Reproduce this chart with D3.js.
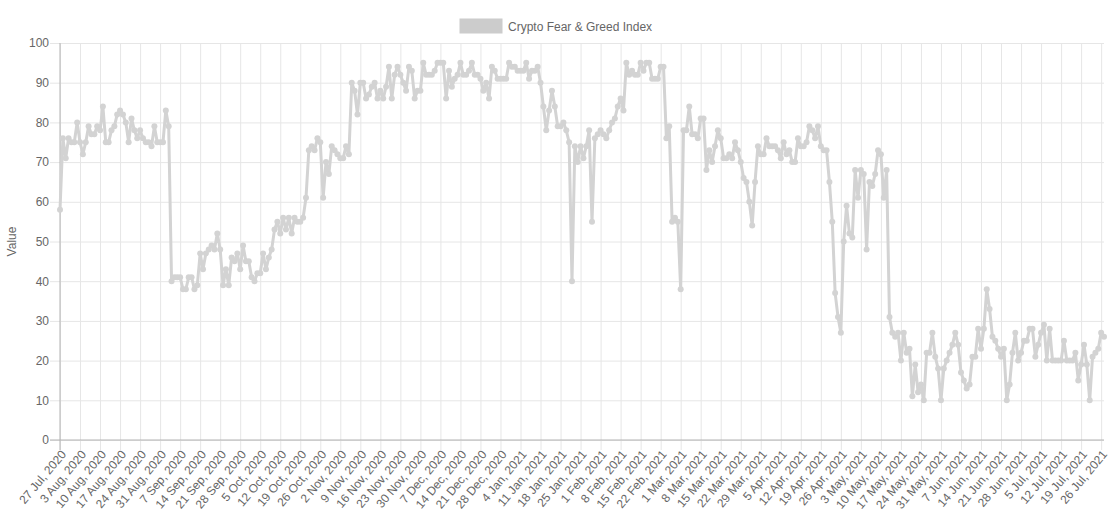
<!DOCTYPE html>
<html>
<head>
<meta charset="utf-8" />
<title>Crypto Fear & Greed Index</title>
<style>
html, body {
  margin: 0;
  padding: 0;
  background-color: #FFFFFF;
}
svg text {
  font-family: "Liberation Sans", Arial, Helvetica, sans-serif;
}
</style>
</head>
<body>
<script src="https://d3js.org/d3.v7.min.js"></script>
<script>

// daily labels, 27 Jul 2020 .. 27 Jul 2021
var startDay = new Date(2020, 6, 27);
var endDay = new Date(2021, 6, 28);
var fmt = d3.timeFormat("%-d %b, %Y");
var dayLabels = d3.timeDay.range(startDay, endDay).map(fmt);

// index values, one per day
var greedValues = [
  58,76,71,76,75,75,80,75,72,75,79,77,77,79,78,84,75,75,78,79,
  82,83,82,80,75,81,78,76,78,76,75,75,74,79,75,75,75,83,79,40,
  41,41,41,38,38,41,41,38,39,47,43,47,48,49,48,52,48,39,43,39,
  46,45,47,43,49,45,45,41,40,42,42,47,43,46,48,53,55,52,56,53,
  56,52,56,55,55,56,61,73,74,73,76,75,61,70,67,74,73,72,71,71,
  74,72,90,88,82,90,90,86,87,89,90,86,88,86,89,94,86,92,94,92,
  90,88,94,93,86,88,88,95,92,92,92,93,95,95,95,86,93,89,91,92,
  95,92,92,93,95,92,92,91,88,90,86,94,93,91,91,91,91,95,94,94,
  93,93,93,95,91,93,93,94,90,84,78,83,88,84,79,79,80,78,75,40,
  74,70,74,71,74,78,55,76,77,78,77,76,78,80,81,84,86,83,95,92,
  93,92,92,95,93,95,95,91,91,91,94,94,76,79,55,56,55,38,78,78,
  84,77,77,76,81,81,68,73,70,74,78,76,71,71,72,71,75,73,70,66,
  65,60,54,65,74,72,72,76,74,74,74,73,71,75,72,73,70,70,76,74,
  74,75,79,78,76,79,74,73,73,65,55,37,31,27,50,59,52,51,68,61,
  68,67,48,65,64,67,73,72,61,68,31,27,26,27,20,27,22,23,11,19,
  12,14,10,22,22,27,21,18,10,18,20,22,24,27,24,17,15,13,14,21,
  21,28,23,28,38,33,26,25,23,21,23,10,14,22,27,20,22,25,25,28,
  28,21,24,27,29,20,28,20,20,20,20,25,20,20,20,22,15,19,24,19,
  10,21,22,23,27,26
];

var yTicks = [0,10,20,30,40,50,60,70,80,90,100];
var seriesName = "Crypto Fear & Greed Index";

var W = 1116, H = 514;
// plot box (window.top is taken, so own names)
var pLeft = 60, pRight = 1104, pTop = 43, pBottom = 440;
var lineColor = "#d3d3d3";
var gridColor = "#e6e6e6";
var axisColor = "#b3b3b3";
var textColor = "#666";

var svg = d3.select("body").append("svg")
  .attr("width", W)
  .attr("height", H);

var x = d3.scalePoint().domain(dayLabels).range([pLeft, pRight]);
var y = d3.scaleLinear().domain([0, 100]).range([pBottom, pTop]);

// weekly tick labels
var tickLabels = dayLabels.filter(function(d, i){ return i % 7 == 0; });

// horizontal grid
var yAxis = d3.axisLeft(y).tickValues(yTicks).tickSize(0).tickPadding(0);
var gy = svg.append("g")
  .attr("transform", "translate(" + (pLeft - 10) + ",0)")
  .call(yAxis);
gy.select(".domain").remove();
gy.selectAll(".tick line")
  .attr("stroke", gridColor)
  .attr("x1", 0)
  .attr("x2", pRight - pLeft + 10);
gy.selectAll(".tick text")
  .attr("fill", textColor)
  .style("font-size", "12px")
  .attr("x", -1);

// vertical grid + labels
var xAxis = d3.axisBottom(x).tickValues(tickLabels).tickSize(0).tickPadding(0);
var gx = svg.append("g")
  .attr("transform", "translate(0," + pBottom + ")")
  .call(xAxis);
gx.select(".domain").remove();
gx.selectAll(".tick line")
  .attr("stroke", gridColor)
  .attr("y1", 10)
  .attr("y2", -(pBottom - pTop));
gx.selectAll(".tick text")
  .attr("fill", textColor)
  .style("font-size", "12px")
  .attr("text-anchor", "end")
  .attr("y", 0)
  .attr("dy", "0.35em")
  .attr("transform", "translate(3,12) rotate(-50)");

// axis lines
svg.append("line")
  .attr("x1", pLeft).attr("x2", pLeft)
  .attr("y1", pTop).attr("y2", pBottom + 10)
  .attr("stroke", axisColor);
svg.append("line")
  .attr("x1", pLeft - 10).attr("x2", pRight)
  .attr("y1", pBottom).attr("y2", pBottom)
  .attr("stroke", axisColor);

// y title
svg.append("text")
  .attr("transform", "translate(16," + ((pTop + pBottom) / 2) + ") rotate(-90)")
  .attr("text-anchor", "middle")
  .attr("fill", textColor)
  .style("font-size", "12px")
  .text("Value");

// the series
var pts = dayLabels.map(function(d, i){ return {label: d, value: greedValues[i]}; });

var line = d3.line()
  .x(function(d){ return x(d.label); })
  .y(function(d){ return y(d.value); });

svg.append("path")
  .datum(pts)
  .attr("d", line)
  .attr("fill", "none")
  .attr("stroke", lineColor)
  .attr("stroke-width", 3)
  .attr("stroke-linejoin", "round");

svg.append("g").selectAll("circle")
  .data(pts)
  .enter().append("circle")
  .attr("cx", function(d){ return x(d.label); })
  .attr("cy", function(d){ return y(d.value); })
  .attr("r", 3)
  .attr("fill", lineColor);

// legend
var lg = svg.append("g").attr("transform", "translate(461,20)");
lg.append("rect")
  .attr("width", 40).attr("height", 12)
  .attr("fill", "#cccccc")
  .attr("stroke", "#cccccc")
  .attr("stroke-width", 3);
lg.append("text")
  .attr("x", 47).attr("y", 10.5)
  .attr("fill", textColor)
  .style("font-size", "12px")
  .text(seriesName);

</script>
</body>
</html>
